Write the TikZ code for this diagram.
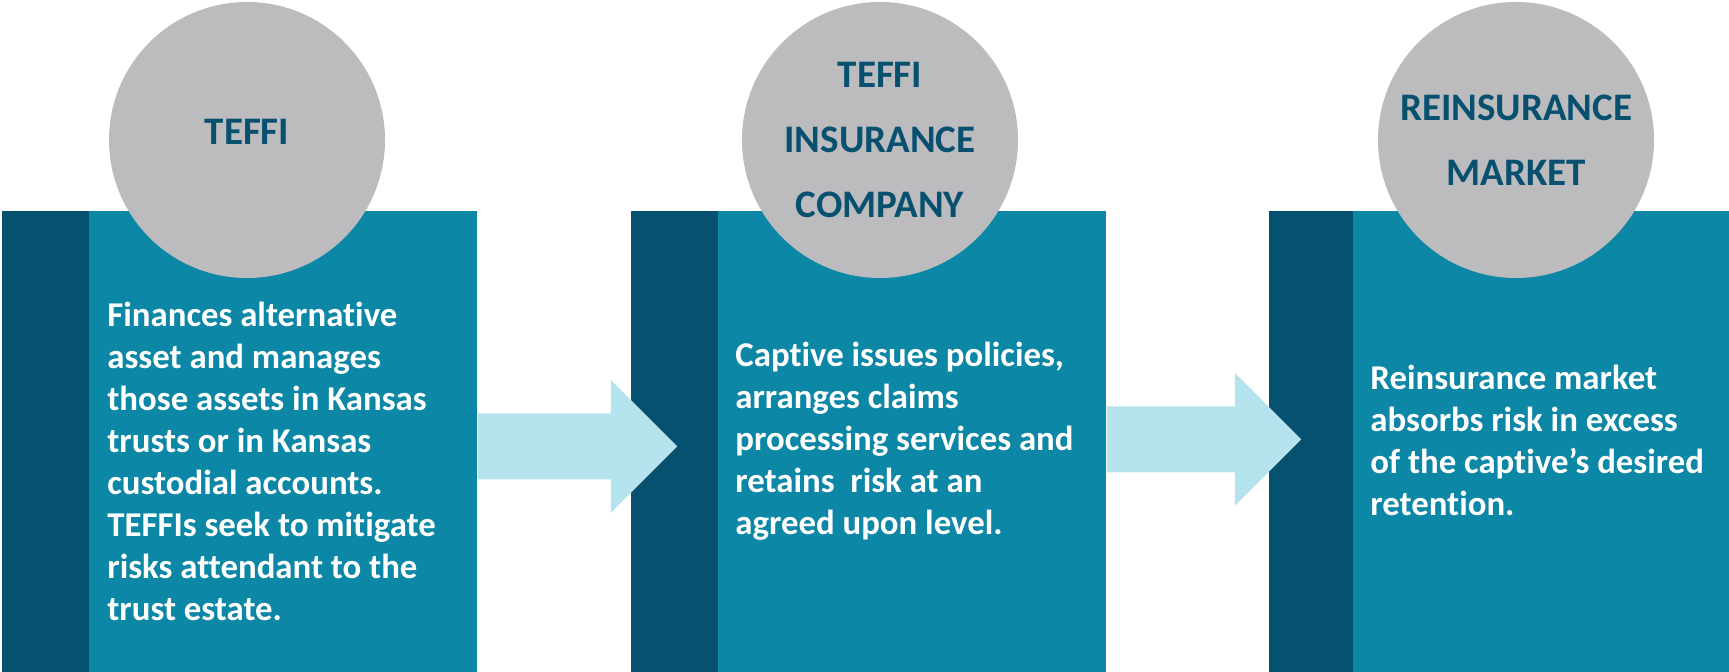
\documentclass[tikz,border=0pt]{standalone}
\usepackage{fontspec}
\setmainfont[Ligatures=NoCommon]{Carlito}
\definecolor{stripblue}{RGB}{6,80,112}
\definecolor{boxteal}{RGB}{12,135,165}
\definecolor{discgrey}{RGB}{188,188,190}
\definecolor{arrowblue}{RGB}{180,227,238}
\definecolor{titleblue}{RGB}{8,80,112}
\begin{document}
\begin{tikzpicture}[x=0.5pt,y=0.5pt]
\tikzstyle{every node}+=[inner sep=0pt]
\tikzstyle{panel}=[fill=boxteal, anchor=north west, minimum height=230.5pt]
\tikzstyle{disc}=[circle, fill=discgrey, minimum size=138pt]
\tikzstyle{title}=[text=titleblue, align=center, font=\fontsize{19.5pt}{32.5pt}\selectfont\bfseries]
\tikzstyle{body}=[text=white, align=left, anchor=base west, font=\fontsize{17.4pt}{21pt}\selectfont\bfseries]
\useasboundingbox (0,0) rectangle (1729,-672);
% panels
\node[panel, minimum width=237.5pt] (box1) at (2,-211) {};
\node[panel, minimum width=237.5pt] (box2) at (631,-211) {};
\node[panel, minimum width=230pt] (box3) at (1269,-211) {};
\fill [stripblue] (box1.north west) rectangle ++(87,-461);
\fill [stripblue] (box2.north west) rectangle ++(87,-461);
\fill [stripblue] (box3.north west) rectangle ++(84,-461);
% discs
\node[disc] (disc1) at (247,-140) {};
\node[disc] (disc2) at (880,-140) {};
\node[disc] (disc3) at (1516,-140) {};
\node[title] (name1) at ([yshift=4pt]disc1.center) {TEFFI};
\node[title] (name2) at (disc2) {TEFFI\\INSURANCE\\COMPANY};
\node[title] (name3) at (disc3) {REINSURANCE\\MARKET};
% texts (base = last line)
\node[body] (text1) at (107,-621) {Finances alternative\\asset and manages\\those assets in Kansas\\trusts or in Kansas\\custodial accounts.\\TEFFIs seek to mitigate\\risks attendant to the\\trust estate.};
\node[body] (text2) at (735,-535) {Captive issues policies,\\arranges claims\\processing services and\\retains\ \ risk at an\\agreed upon level.};
\node[body] (text3) at (1370,-516) {Reinsurance market\\absorbs risk in excess\\of the captive’s desired\\retention.};
% arrows
\fill [arrowblue] (box1.east) ++(0,28.5) -- ++(133,0) -- ++(0,33.5) -- ++(66.5,-66.5) -- ++(-66.5,-66.5) -- ++(0,33.5) -- ++(-133,0) -- cycle;
\fill [arrowblue] (box2.east) ++(0,35.5) -- ++(128,0) -- ++(0,33.5) -- ++(66.5,-66.5) -- ++(-66.5,-66.5) -- ++(0,33.5) -- ++(-128,0) -- cycle;
\end{tikzpicture}
\end{document}
